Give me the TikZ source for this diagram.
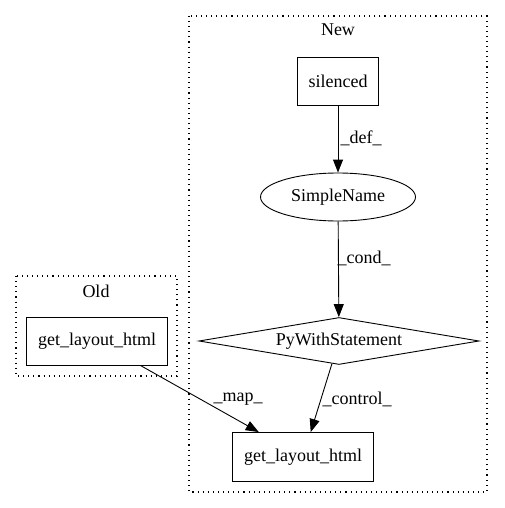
\documentclass[tikz,border=0pt]{standalone}
\usepackage{fontspec}
\setmainfont{Liberation Serif}
\usetikzlibrary{shapes.geometric,arrows.meta}

\begin{document}
\begin{tikzpicture}[x=1pt,y=-1pt,line width=0.9pt,
  every node/.style={font=\fontsize{18}{20}\selectfont},
  box/.style={draw,rectangle,inner sep=0pt,minimum height=48pt},
  arr/.style={-{Triangle[length=13pt,width=10pt]}},
  cluster/.style={draw,line width=1.1pt,dash pattern=on 1.1pt off 4pt}]
\useasboundingbox (0,0) rectangle (504,508);
% clusters
\draw[cluster] (16,276) rectangle (177,376);
\draw[cluster] (189,16) rectangle (487,492);
\node (oldlbl) at (96,291) {Old};
\node (newlbl) at (338,30) {New};
% nodes
\node[box,minimum width=141pt] (oldget) at (97,341) {get\_layout\_html};
\node[box,minimum width=81pt] (silenced) at (338,81) {silenced};
\node[draw,ellipse,inner sep=0pt,minimum width=155pt,minimum height=48pt] (simple) at (338,197) {SimpleName};
\node[draw,diamond,shape aspect=6,inner sep=0pt,minimum width=280pt,minimum height=47pt] (pywith) at (339,341) {PyWithStatement};
\node[box,minimum width=141pt,minimum height=49pt] (newget) at (303,457) {get\_layout\_html};
% edges
\draw[arr] (silenced) -- (simple);
\draw[arr] (simple) -- (pywith);
\draw[arr] (pywith) -- (newget);
\draw[arr] (oldget) -- (newget);
\node (deflbl) at (361,138) {\_def\_};
\node (condlbl) at (364,258) {\_cond\_};
\node (maplbl) at (238,399) {\_map\_};
\node (ctrllbl) at (357,399) {\_control\_};
\end{tikzpicture}
\end{document}
